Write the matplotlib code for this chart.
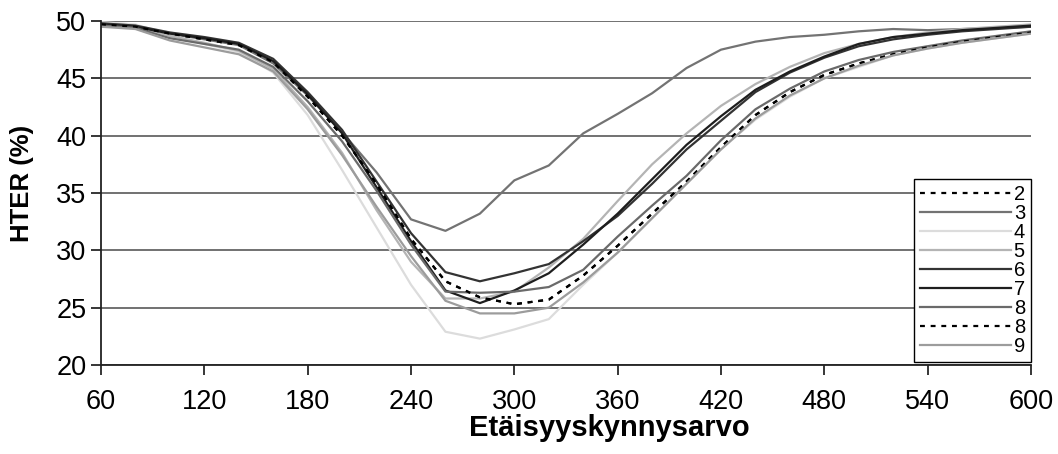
import matplotlib
matplotlib.use("Agg")
import matplotlib.pyplot as plt

plt.rcParams['font.family'] = ['Liberation Sans', 'DejaVu Sans']

x = list(range(60, 601, 20))

s2 = [49.7, 49.5, 48.9, 48.4, 47.9, 46.4, 43.4, 40.0, 35.8, 31.0, 27.3, 25.9, 25.3, 25.7, 27.8,
      30.4, 33.2, 36.0, 39.0, 41.8, 43.8, 45.3, 46.3, 47.1, 47.7, 48.2, 48.6, 49.0]
s3 = [49.6, 49.4, 48.9, 48.4, 47.9, 46.3, 43.5, 40.3, 36.8, 32.7, 31.7, 33.2, 36.1, 37.4, 40.2,
      41.9, 43.7, 45.9, 47.5, 48.2, 48.6, 48.8, 49.1, 49.3, 49.2, 49.3, 49.4, 49.5]
s4 = [49.9, 49.7, 48.8, 48.0, 47.3, 45.5, 41.8, 37.0, 32.0, 27.0, 22.9, 22.3, 23.1, 24.0, 27.0,
      29.8, 32.8, 35.8, 38.8, 41.4, 43.4, 45.0, 46.0, 47.0, 47.6, 48.1, 48.5, 48.9]
s5 = [49.8, 49.6, 48.7, 48.1, 47.4, 45.8, 42.5, 38.5, 33.5, 29.0, 25.8, 25.8, 26.4, 28.5, 31.0,
      34.3, 37.5, 40.2, 42.6, 44.5, 46.0, 47.2, 48.0, 48.6, 49.0, 49.3, 49.5, 49.7]
s6 = [49.8, 49.6, 49.0, 48.6, 48.1, 46.7, 43.8, 40.5, 36.0, 31.5, 28.1, 27.3, 28.0, 28.8, 30.8,
      33.0, 35.8, 38.8, 41.3, 43.8, 45.5, 46.8, 47.8, 48.4, 48.8, 49.1, 49.3, 49.5]
s7 = [49.7, 49.5, 48.9, 48.5, 48.0, 46.5, 43.6, 40.2, 35.5, 30.8, 26.5, 25.4, 26.5, 28.0, 30.5,
      33.2, 36.2, 39.2, 41.7, 44.0, 45.6, 46.9, 48.0, 48.6, 48.9, 49.2, 49.4, 49.6]
s8 = [49.6, 49.4, 48.5, 48.0, 47.5, 46.0, 43.0, 39.5, 35.2, 30.5, 26.4, 26.3, 26.4, 26.8, 28.3,
      31.2, 33.9, 36.5, 39.6, 42.3, 44.1, 45.6, 46.6, 47.3, 47.8, 48.3, 48.7, 49.1]
s8b = s2
s9 = [49.5, 49.3, 48.3, 47.7, 47.1, 45.6, 42.3, 38.3, 33.8, 29.5, 25.6, 24.5, 24.5, 25.0, 27.2,
      29.8, 32.8, 35.8, 38.8, 41.5, 43.5, 45.0, 46.1, 47.0, 47.6, 48.1, 48.5, 48.9]

labels = ['2', '3', '4', '5', '6', '7', '8', '8', '9']
series = [s2, s3, s4, s5, s6, s7, s8, s8b, s9]
colors = ['#000000', '#737373', '#dcdcdc', '#b4b4b4', '#333333', '#1e1e1e', '#6a6a6a', '#000000', '#9c9c9c']
styles = [(0, (2.2, 2.6)), '-', '-', '-', '-', '-', '-', (0, (2.2, 2.6)), '-']

xticks = [60, 120, 180, 240, 300, 360, 420, 480, 540, 600]
yticks = [20, 25, 30, 35, 40, 45, 50]

fig = plt.figure(figsize=(10.58, 4.54), dpi=100)
ax = fig.add_axes([101/1058, 1-365/454, 930/1058, 344/454])

for ys, lab, c, ls in zip(series, labels, colors, styles):
    ax.plot(x, ys, color=c, linestyle=ls, linewidth=1.6, label=lab)

ax.set_xlim(60, 600)
ax.set_ylim(20, 50)
ax.set_xticks(xticks)
ax.set_yticks(yticks)
ax.yaxis.grid(True, color='#4a4a4a', linewidth=1.1)
ax.set_axisbelow(True)
for sp in ['top', 'right']:
    ax.spines[sp].set_visible(False)
for sp in ['left', 'bottom']:
    ax.spines[sp].set_linewidth(1.3)
    ax.spines[sp].set_color('#222222')
ax.tick_params(direction='out', length=7, width=1.1, labelsize=19.5, colors='#000000')
ax.tick_params(axis='x', pad=10.5)
ax.set_xlabel('Etäisyyskynnysarvo', fontsize=21, fontweight='bold')
ax.set_ylabel('HTER (%)', fontsize=18.5, fontweight='bold')
ax.xaxis.set_label_coords((609 - 101) / 930, -(428 - 365) / 344)
ax.yaxis.set_label_coords(-(101 - 22) / 930, (365 - 183) / 344)
ax.xaxis.label.set_va('center')
ax.yaxis.label.set_va('center')

leg = ax.legend(loc='upper right', bbox_to_anchor=(1.0, 0.541), fontsize=14.5,
                frameon=True, fancybox=False, edgecolor='#000000', framealpha=1,
                handlelength=4.5, handletextpad=0.15, labelspacing=0.0,
                borderpad=0.3, borderaxespad=0.0)
leg.get_frame().set_linewidth(1.0)

fig.savefig('out.png', dpi=100)
